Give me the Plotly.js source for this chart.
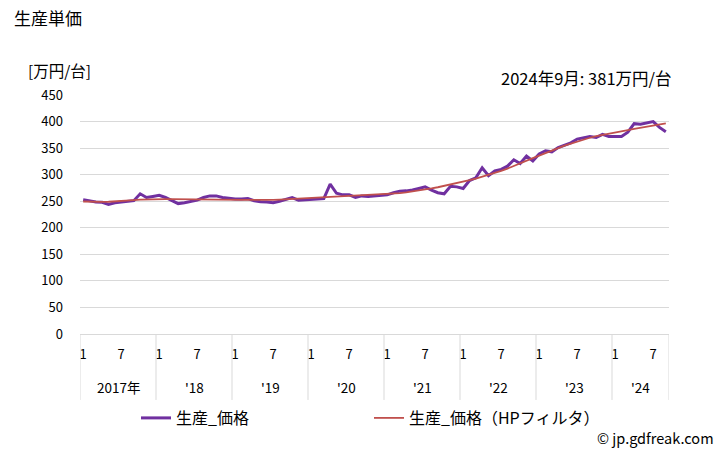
<!DOCTYPE html>
<html>
<head>
<meta charset="utf-8">
<script src="https://cdn.plot.ly/plotly-3.0.1.min.js"></script>
<style>html,body{margin:0;padding:0;background:#fff;}#chart{width:728px;height:450px;}</style>
</head>
<body>
<div id="chart"></div>
<script>
// Monthly data Jan 2017 - Sep 2024 (万円/台)
const years = [2017, 2018, 2019, 2020, 2021, 2022, 2023, 2024];
const yearLabels = ["2017年", "'18", "'19", "'20", "'21", "'22", "'23", "'24"];
const monthsInYear = [12, 12, 12, 12, 12, 12, 12, 9];
const tickMonths = [1, 7];

const price = [
  253, 251, 248.5, 248, 244, 247, 248, 249, 251, 264, 257, 259,
  261, 257, 252, 245.5, 247, 249, 252, 257, 260, 260, 257, 255.6,
  254, 254, 255, 251, 249, 248.5, 247, 250, 253, 257, 252, 253,
  254, 254, 255, 282, 265, 262, 262, 257, 260, 259, 260, 261,
  262, 266, 269, 269.5, 271, 274, 277, 271, 266, 264, 278, 277,
  274, 289, 294, 313, 298, 307, 310, 316, 328, 321, 335, 326,
  339, 345, 343, 351, 356, 360, 367, 370, 372, 370, 376, 372,
  372, 372, 380, 396, 395, 397, 400, 389, 381
];
const priceHP = [
  249.5, 249, 248.8, 248.7, 249, 249.5, 250.2, 251, 252, 253, 253.5, 254,
  254, 254, 254, 254, 254, 254, 254, 254, 254, 253.8, 253.5, 253.2,
  253, 252.7, 252.5, 252.3, 252.2, 252.3, 252.5, 253, 253.6, 254.3, 255, 255.6,
  256.3, 257, 257.7, 258.3, 259, 259.5, 260, 260.4, 260.8, 261.2, 261.7, 262.3,
  263, 264, 265.3, 266.7, 268.3, 270, 272, 274, 276.3, 278.7, 281.2, 283.8,
  286.5, 289.5, 292.7, 296, 299.5, 303, 307, 311.5, 316, 321, 326, 331,
  336, 341, 345.5, 350, 354.5, 358.5, 362.5, 366, 369.5, 372.5, 375, 377.3,
  379.5, 381.5, 383.7, 386, 388.3, 390.5, 392.5, 394.5, 396.5
];
const seriesNames = ["生産_価格", "生産_価格（HPフィルタ）"];
const latestLabel = "2024年9月: 381万円/台";

// Build x index & tick labels
const xIdx = [];
const tickVals = [], tickText = [];
const yearStart = [];
let k = 0;
years.forEach((y, yi) => {
  yearStart.push(k);
  for (let m = 1; m <= monthsInYear[yi]; m++) {
    xIdx.push(k);
    if (tickMonths.includes(m)) { tickVals.push(k); tickText.push(String(m)); }
    k++;
  }
});
const nPts = k;

const font = "'Noto Sans CJK JP', 'Noto Sans', sans-serif";
const gridC = "#d9d9d9";

const shapes = [];
const annotations = [];
yearStart.forEach((s, yi) => {
  shapes.push({type: "line", xref: "x", yref: "paper", x0: s - 0.5, x1: s - 0.5, y0: 0, y1: -0.276,
               line: {color: gridC, width: 1}});
  annotations.push({xref: "x", yref: "paper", x: s - 0.5 + monthsInYear[yi] / 2, y: -0.22,
                    text: yearLabels[yi], showarrow: false, xanchor: "center", yanchor: "middle",
                    font: {family: font, size: 13.5, color: "#000"}});
});
shapes.push({type: "line", xref: "x", yref: "paper", x0: nPts - 0.5, x1: nPts - 0.5, y0: 0, y1: -0.276,
             line: {color: gridC, width: 1}});

annotations.push({xref: "paper", yref: "paper", x: (26 - 80) / 589, y: (334 - 70) / 239,
                  text: "[万円/台]", showarrow: false, xanchor: "left", yanchor: "middle",
                  font: {family: font, size: 15.5, color: "#000"}});
annotations.push({xref: "paper", yref: "paper", x: (674 - 80) / 589, y: (334 - 78) / 239,
                  text: latestLabel, showarrow: false, xanchor: "right", yanchor: "middle",
                  font: {family: font, size: 16.5, color: "#000"}});
annotations.push({xref: "paper", yref: "paper", x: (716 - 80) / 589, y: (334 - 437) / 239,
                  text: "© jp.gdfreak.com", showarrow: false, xanchor: "right", yanchor: "middle",
                  font: {family: font, size: 14.5, color: "#000"}});

const traces = [
  {x: xIdx, y: price, type: "scatter", mode: "lines", name: seriesNames[0],
   line: {color: "#7030A0", width: 3}},
  {x: xIdx, y: priceHP, type: "scatter", mode: "lines", name: seriesNames[1],
   line: {color: "#C0504D", width: 1.8}}
];

const layout = {
  width: 728, height: 450,
  margin: {l: 80, r: 59, t: 95, b: 116},
  paper_bgcolor: "#fff", plot_bgcolor: "#fff",
  font: {family: font, color: "#000"},
  title: {text: "生産単価", x: 14 / 728, xanchor: "left", xref: "container", y: 1 - 19 / 450, yanchor: "middle", yref: "container",
          font: {family: font, size: 17, color: "#000"}},
  xaxis: {range: [-0.5, nPts - 0.5], tickvals: tickVals, ticktext: tickText, showgrid: false, zeroline: false,
          showline: true, linecolor: gridC, linewidth: 1, ticks: "", ticklabelstandoff: 8,
          tickfont: {family: font, size: 13, color: "#000"}, fixedrange: true},
  yaxis: {range: [0, 450], dtick: 50, tick0: 0, showgrid: true, gridcolor: gridC, gridwidth: 1, zeroline: false,
          showline: false, ticks: "", ticklabelstandoff: 16,
          tickfont: {family: font, size: 13, color: "#000"}, fixedrange: true},
  showlegend: true,
  legend: {orientation: "h", x: (136 - 80) / 589, xanchor: "left", y: (334 - 418) / 239, yanchor: "middle",
           entrywidth: 188, entrywidthmode: "pixels", font: {family: font, size: 16, color: "#000"},
           bgcolor: "rgba(0,0,0,0)"},
  shapes: shapes,
  annotations: annotations
};

Plotly.newPlot("chart", traces, layout, {displayModeBar: false, staticPlot: true});
</script>
</body>
</html>
